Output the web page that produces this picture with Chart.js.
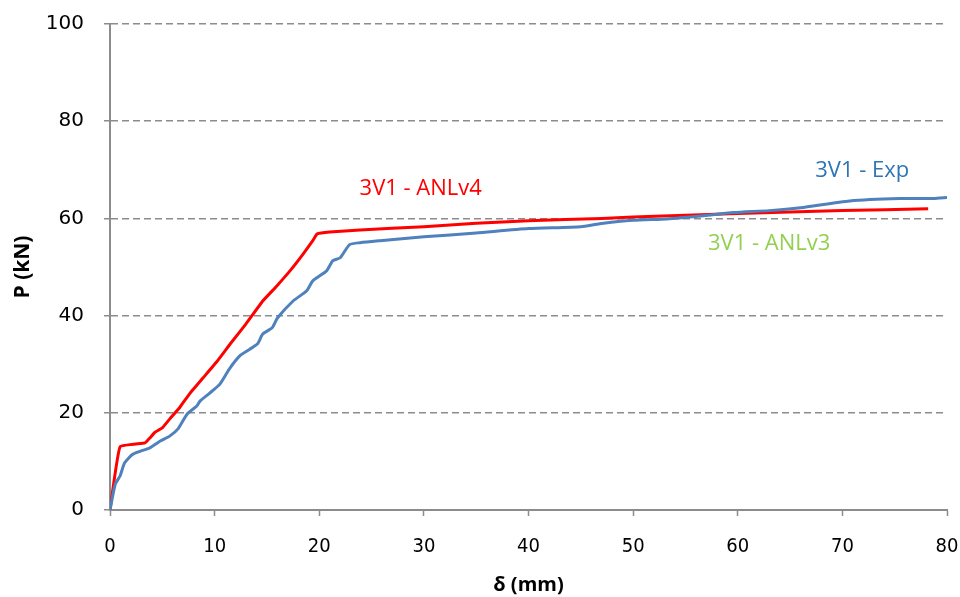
<!DOCTYPE html>
<html>
<head>
<meta charset="utf-8">
<script src="https://cdn.jsdelivr.net/npm/chart.js@4/dist/chart.umd.min.js"></script>
<style>
  body { margin: 0; background: #fff; }
  #wrap { width: 960px; height: 597px; position: relative; }
</style>
</head>
<body>
<div id="wrap"><canvas id="chart"></canvas></div>
<script>
// curva experimental (azul)
const expX = [0, 0.5, 0.96, 1.4, 2.2, 3.8, 4.8, 5.7, 6.5, 7.4, 8.3, 8.6, 9.5, 10.5, 11.4, 12.4, 13.3, 14.1, 14.6, 15.5,
  16, 17.5, 18.8, 19.4, 20.7, 21.3, 22, 22.9, 23.9, 25.8, 30, 35, 40, 45, 46.8, 50, 53.2, 56, 59.6, 63,
  66, 70.7, 75.5, 78.7, 80];
const expY = [0, 5.3, 7, 9.7, 11.5, 12.8, 14.2, 15.2, 16.7, 19.8, 21.4, 22.4, 24, 25.9, 29, 31.7, 33, 34.2, 36.2, 37.5,
  39.5, 43, 45.1, 47.2, 49.2, 51.3, 51.9, 54.6, 55, 55.4, 56.2, 57, 57.9, 58.3, 58.9, 59.6, 59.9, 60.4, 61.2, 61.6,
  62.2, 63.6, 64.1, 64.1, 64.3];

// modelo ANLv4 (rojo)
const anl4X = [0, 0.96, 3.35, 3.8, 4.3, 5.0, 5.7, 6.7, 7.6, 8.9, 10.2, 11.5, 13.0, 14.6, 15.9, 17.2, 18.4, 19.4, 19.8,
  21, 23.9, 30, 35, 40, 47, 50, 60, 70, 78.2];
const anl4Y = [0, 13.0, 13.8, 14.8, 16.0, 16.9, 18.7, 21.2, 23.9, 27.2, 30.5, 34.2, 38.3, 43, 46, 49.2, 52.5, 55.5, 56.8,
  57.2, 57.6, 58.3, 59, 59.5, 60, 60.3, 61, 61.6, 62.0];

const yTicks = [0, 20, 40, 60, 80, 100];
const xTicks = [0, 10, 20, 30, 40, 50, 60, 70, 80];

// etiquetas dentro del gráfico
const labelText = ['3V1 - ANLv4', '3V1 - Exp', '3V1 - ANLv3'];
const labelX = [29.7, 71.9, 63];
const labelY = [66.1, 69.8, 54.8];
const labelColor = ['#FF0000', '#2E75B6', '#92D050'];

const gray = '#8C8C8C';

function toPoints(xs, ys) {
  return xs.map((x, i) => ({ x: x, y: ys[i] }));
}

const seriesLabels = {
  id: 'seriesLabels',
  afterDatasetsDraw(chart) {
    const ctx = chart.ctx;
    const sx = chart.scales.x;
    const sy = chart.scales.y;
    ctx.save();
    ctx.font = '22px "Open Sans"';
    ctx.textAlign = 'center';
    ctx.textBaseline = 'middle';
    labelText.forEach((t, i) => {
      ctx.fillStyle = labelColor[i];
      ctx.fillText(t, sx.getPixelForValue(labelX[i]), sy.getPixelForValue(labelY[i]));
    });
    ctx.restore();
  }
};

const config = {
  type: 'scatter',
  data: {
    datasets: [
      {
        label: '3V1 - Exp',
        data: toPoints(expX, expY),
        showLine: true,
        borderColor: '#4F81BD',
        borderWidth: 3,
        pointRadius: 0,
        tension: 0.2
      },
      {
        label: '3V1 - ANLv4',
        data: toPoints(anl4X, anl4Y),
        showLine: true,
        borderColor: '#FF0000',
        borderWidth: 3,
        pointRadius: 0,
        tension: 0.1
      }
    ]
  },
  options: {
    responsive: true,
    maintainAspectRatio: false,
    animation: false,
    layout: { padding: { left: 0, right: 13, top: 24, bottom: 0 } },
    plugins: {
      legend: { display: false },
      tooltip: { enabled: false }
    },
    scales: {
      x: {
        type: 'linear',
        min: 0,
        max: 80,
        afterBuildTicks: (s) => { s.ticks = xTicks.map(v => ({ value: v })); },
        afterFit: (s) => { s.height = 87; s.paddingLeft = 0; s.paddingRight = 0; },
        grid: { drawOnChartArea: false, drawTicks: true, tickLength: 6, tickColor: gray, tickWidth: 1.5 },
        border: { color: gray, width: 2 },
        ticks: {
          padding: 19,
          color: '#000',
          font: { family: '"Liberation Sans Narrow", "DejaVu Sans Condensed", sans-serif', size: 20 }
        },
        title: {
          display: true,
          text: 'δ (mm)',
          color: '#000',
          padding: { top: 0, bottom: 0 },
          font: { family: '"Open Sans", sans-serif', size: 20, weight: 'bold' }
        }
      },
      y: {
        type: 'linear',
        min: 0,
        max: 100,
        afterBuildTicks: (s) => { s.ticks = yTicks.map(v => ({ value: v })); },
        afterFit: (s) => { s.width = 110; s.paddingTop = 0; s.paddingBottom = 0; },
        grid: {
          color: (c) => (c.tick && c.tick.value === 0) ? 'rgba(0,0,0,0)' : gray,
          lineWidth: 1.5,
          tickLength: 6,
          tickColor: gray,
          tickWidth: 1.5,
          tickBorderDash: []
        },
        border: { color: gray, width: 2, dash: [7, 4] },
        ticks: {
          padding: 20,
          color: '#000',
          font: { family: '"DejaVu Sans", sans-serif', size: 20 }
        },
        title: {
          display: true,
          text: 'P (kN)',
          color: '#000',
          padding: { top: 10, bottom: 0 },
          font: { family: '"Open Sans", sans-serif', size: 21, weight: 'bold' }
        }
      }
    }
  },
  plugins: [seriesLabels]
};

new Chart(document.getElementById('chart'), config);
</script>
</body>
</html>
